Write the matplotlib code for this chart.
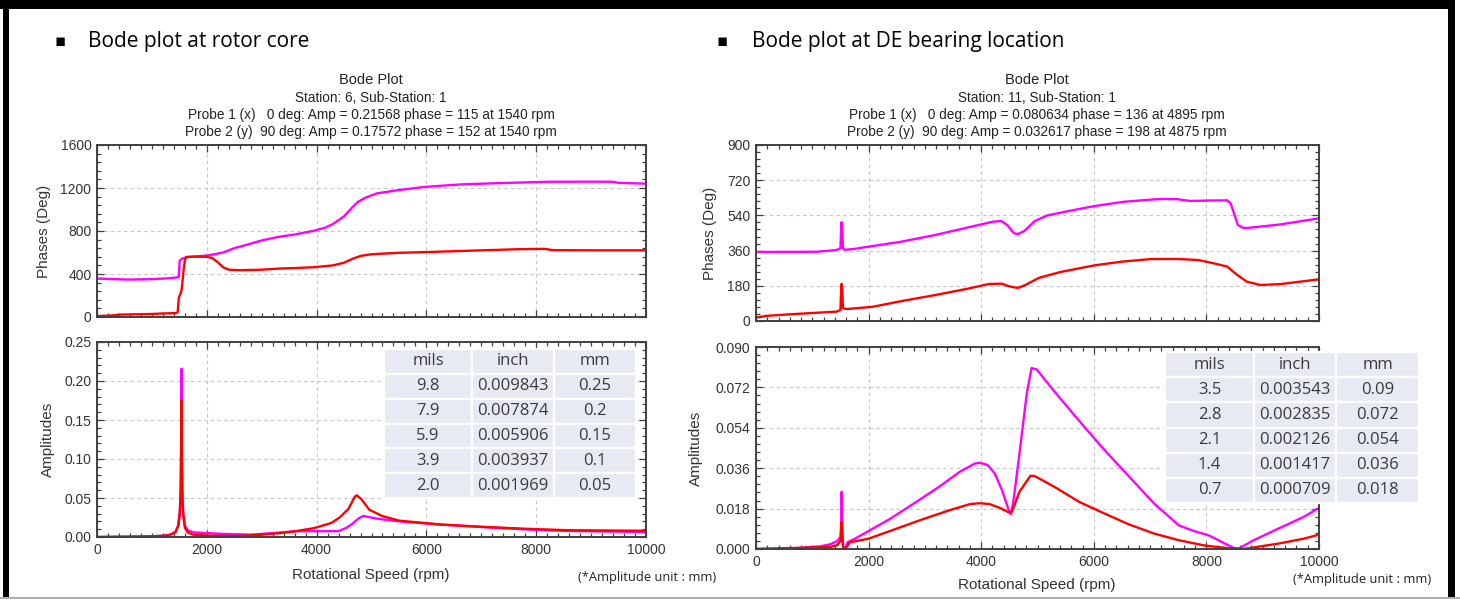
import matplotlib
matplotlib.use("Agg")
import matplotlib.pyplot as plt
from matplotlib.patches import Rectangle
from matplotlib.ticker import MultipleLocator

# ---------------- data ----------------
# rotor core: phase (deg) vs speed (rpm)
core_ph1_rpm = [0, 300, 600, 1000, 1300, 1450, 1490, 1505, 1540, 1640, 1800, 2000, 2150, 2300,
                2500, 2750, 3000, 3300, 3600, 3960, 4150, 4300, 4500, 4650, 4750, 4885, 5100,
                5500, 5950, 6300, 6650, 7300, 7800, 8200, 9000, 9400, 9500, 10000]
core_ph1 = [358, 352, 348, 352, 360, 368, 372, 520, 540, 558, 563, 572, 585, 600,
            640, 675, 712, 745, 767, 803, 830, 865, 937, 1020, 1070, 1109, 1150,
            1181, 1209, 1222, 1234, 1245, 1252, 1258, 1259, 1258, 1248, 1240]
core_ph2_rpm = [0, 300, 400, 1000, 1200, 1440, 1470, 1490, 1520, 1545, 1570, 1600, 1630, 1800,
                2000, 2100, 2200, 2300, 2400, 2600, 3000, 3300, 3600, 3950, 4300, 4500, 4650,
                4800, 5000, 5500, 6000, 6500, 7000, 7700, 8150, 8300, 9000, 10000]
core_ph2 = [8, 15, 22, 28, 33, 36, 45, 180, 215, 265, 400, 530, 558, 562,
            560, 548, 510, 462, 440, 435, 440, 450, 455, 463, 480, 505, 540,
            568, 584, 597, 604, 612, 620, 631, 634, 622, 620, 620]

# rotor core: amplitude (mm)
core_amp1_rpm = [0, 800, 1200, 1350, 1430, 1480, 1510, 1525, 1535, 1540, 1545, 1555, 1570, 1600,
                 1650, 1750, 2000, 2300, 2800, 3400, 3600, 4400, 4550, 4650, 4770, 4850, 5100,
                 5500, 6250, 7000, 7800, 8550, 10000]
core_amp1 = [0.0, 0.0005, 0.0015, 0.003, 0.007, 0.015, 0.035, 0.065, 0.15, 0.21568, 0.12, 0.06,
             0.03, 0.015, 0.009, 0.006, 0.005, 0.004, 0.003, 0.006, 0.0075, 0.0075, 0.012, 0.017,
             0.024, 0.027, 0.0235, 0.020, 0.016, 0.0128, 0.0098, 0.0078, 0.0064]
core_amp2_rpm = [0, 1000, 1300, 1430, 1480, 1510, 1525, 1535, 1540, 1545, 1555, 1570, 1600, 1650,
                 1750, 2000, 2500, 2800, 3200, 3580, 3960, 4270, 4420, 4580, 4690, 4730, 4810,
                 4960, 5190, 5500, 6260, 7030, 7800, 8570, 10000]
core_amp2 = [0.0, 0.0008, 0.002, 0.006, 0.014, 0.03, 0.06, 0.12, 0.17572, 0.10, 0.05, 0.03,
             0.012, 0.006, 0.003, 0.002, 0.0012, 0.002, 0.004, 0.007, 0.0115, 0.018, 0.025,
             0.036, 0.051, 0.0535, 0.049, 0.035, 0.027, 0.021, 0.016, 0.013, 0.0106, 0.0087, 0.008]

# DE bearing: phase (deg)
de_ph1_rpm = [0, 1080, 1430, 1500, 1515, 1522, 1530, 1545, 1580, 1730, 2000, 2570, 3170, 3760,
              4210, 4360, 4470, 4580, 4650, 4770, 4950, 5175, 5550, 6000, 6510, 6890, 7180,
              7480, 7710, 8070, 8370, 8430, 8500, 8560, 8660, 8780, 9320, 10000]
de_ph1 = [353, 354, 363, 372, 500, 505, 480, 372, 364, 368, 380, 405, 439, 478,
          508, 511, 489, 449, 444, 461, 511, 540, 562, 587, 609, 618, 624,
          623, 614, 616, 617, 602, 542, 491, 475, 477, 494, 525]
de_ph2_rpm = [0, 180, 590, 1430, 1500, 1515, 1522, 1530, 1545, 1610, 2080, 2570, 3170, 3760,
              4130, 4360, 4500, 4650, 4770, 5030, 5400, 6000, 6510, 7030, 7480, 7850, 8130,
              8370, 8550, 8720, 8960, 9320, 10000]
de_ph2 = [17, 26, 34, 48, 56, 185, 190, 170, 65, 61, 73, 101, 132, 165,
          189, 191, 177, 169, 182, 221, 250, 284, 304, 317, 317, 312, 295,
          278, 235, 201, 184, 189, 213]

# DE bearing: amplitude (mm)
de_amp1_rpm = [0, 700, 1140, 1320, 1450, 1500, 1515, 1522, 1530, 1549, 1584, 1630, 1760, 2000,
               2380, 2910, 3270, 3620, 3890, 3970, 4110, 4240, 4370, 4500, 4530, 4575, 4680,
               4810, 4895, 4990, 5300, 5740, 6190, 6630, 7070, 7340, 7510, 7780, 8040, 8310,
               8490, 8575, 8840, 9280, 9730, 10000]
de_amp1 = [0.0, 0.0003, 0.0012, 0.0021, 0.0036, 0.0054, 0.012, 0.0255, 0.012, 0.0009, 0.0003,
           0.0031, 0.0046, 0.008, 0.0134, 0.022, 0.028, 0.0344, 0.0381, 0.0384, 0.0375, 0.0337,
           0.0262, 0.0165, 0.0155, 0.0218, 0.0426, 0.0694, 0.080634, 0.0799, 0.0702, 0.0571,
           0.0441, 0.0322, 0.0203, 0.0143, 0.0105, 0.008, 0.0061, 0.0027, 0.0004, 0.0002,
           0.0039, 0.0091, 0.0143, 0.0183]
de_amp2_rpm = [0, 1320, 1450, 1500, 1515, 1522, 1530, 1549, 1584, 1670, 2000, 2380, 2910, 3440,
               3800, 3970, 4150, 4330, 4500, 4550, 4680, 4875, 4950, 5300, 5740, 6190, 6630,
               7070, 7510, 7960, 8400, 8660, 8840, 9280, 9730, 10000]
de_amp2 = [0.0, 0.0009, 0.0018, 0.0036, 0.008, 0.012, 0.006, 0.0003, 0.0, 0.003, 0.0046, 0.008,
           0.0128, 0.0173, 0.02, 0.0204, 0.02, 0.0183, 0.0162, 0.0168, 0.0255, 0.032617, 0.0325,
           0.0277, 0.021, 0.0158, 0.0109, 0.0069, 0.0039, 0.0016, 0.0003, 0.0, 0.0007, 0.0024,
           0.0046, 0.0064]

# unit conversion tables
table_header = ["mils", "inch", "mm"]
core_table = [["9.8", "0.009843", "0.25"],
              ["7.9", "0.007874", "0.2"],
              ["5.9", "0.005906", "0.15"],
              ["3.9", "0.003937", "0.1"],
              ["2.0", "0.001969", "0.05"]]
de_table = [["3.5", "0.003543", "0.09"],
            ["2.8", "0.002835", "0.072"],
            ["2.1", "0.002126", "0.054"],
            ["1.4", "0.001417", "0.036"],
            ["0.7", "0.000709", "0.018"]]

core_title = ["Station: 6, Sub-Station: 1",
              "Probe 1 (x)   0 deg: Amp = 0.21568 phase = 115 at 1540 rpm",
              "Probe 2 (y)  90 deg: Amp = 0.17572 phase = 152 at 1540 rpm"]
de_title = ["Station: 11, Sub-Station: 1",
            "Probe 1 (x)   0 deg: Amp = 0.080634 phase = 136 at 4895 rpm",
            "Probe 2 (y)  90 deg: Amp = 0.032617 phase = 198 at 4875 rpm"]

# ---------------- layout helpers (pixel based) ----------------
W, H = 1460, 600
fig = plt.figure(figsize=(W / 100, H / 100), dpi=100)
fig.patch.set_facecolor("white")

TICK_FONT = "Liberation Sans"
SLIDE_FONT = ["Open Sans", "DejaVu Sans"]
MAGENTA = "#ff00ff"
RED = "#ff0000"


def px_axes(x0, y0, x1, y1):
    return fig.add_axes([x0 / W, 1 - y1 / H, (x1 - x0) / W, (y1 - y0) / H])


def px_text(x, y, s, **kw):
    fig.text(x / W, 1 - y / H, s, **kw)


def style_axes(ax, ymax, ymajor, yminor, fmt, show_x):
    ax.set_xlim(0, 10000)
    ax.set_ylim(0, ymax)
    ax.xaxis.set_major_locator(MultipleLocator(2000))
    ax.xaxis.set_minor_locator(MultipleLocator(200))
    ax.yaxis.set_major_locator(MultipleLocator(ymajor))
    ax.yaxis.set_minor_locator(MultipleLocator(yminor))
    ax.yaxis.set_major_formatter(plt.FormatStrFormatter(fmt))
    ax.grid(True, which="major", linestyle=(0, (3, 3)), color="#c4c4c4", linewidth=0.8)
    ax.tick_params(which="both", direction="in", top=True, right=True, colors="#404040",
                   labelcolor="#333333", labelsize=10, width=0.9)
    ax.tick_params(which="major", length=5, pad=4)
    ax.tick_params(which="minor", length=3)
    ax.tick_params(axis="x", labelbottom=show_x)
    for lab in ax.get_xticklabels() + ax.get_yticklabels():
        lab.set_fontfamily(TICK_FONT)
    for sp in ax.spines.values():
        sp.set_color("#404040")
        sp.set_linewidth(1.4)


def draw_table(x0, y0, x1, y1, col_px, rows):
    tax = px_axes(x0, y0, x1, y1)
    tax.set_axis_off()
    total = sum(col_px)
    tb = tax.table(cellText=rows, colLabels=table_header, cellLoc="center",
                   colWidths=[c / total for c in col_px], bbox=[0, 0, 1, 1])
    tb.auto_set_font_size(False)
    for cell in tb.get_celld().values():
        cell.set_facecolor("#e8eaf3")
        cell.set_edgecolor("white")
        cell.set_linewidth(1.6)
        cell.get_text().set_fontsize(12)
        cell.get_text().set_fontfamily(SLIDE_FONT)
        cell.get_text().set_color("#3a3a3a")


# ---------------- rotor core ----------------
ax = px_axes(97, 145, 646, 317)
ax.plot(core_ph1_rpm, core_ph1, color=MAGENTA, lw=1.7)
ax.plot(core_ph2_rpm, core_ph2, color=RED, lw=1.7)
style_axes(ax, 1600, 400, 80, "%d", False)
ax.set_ylabel("Phases (Deg)", fontfamily=TICK_FONT, fontsize=11, color="#333333", labelpad=7)

ax = px_axes(97, 342, 646, 537)
ax.plot(core_amp1_rpm, core_amp1, color=MAGENTA, lw=1.7)
ax.plot(core_amp2_rpm, core_amp2, color=RED, lw=1.7)
style_axes(ax, 0.25, 0.05, 0.01, "%.2f", True)
ax.set_ylabel("Amplitudes", fontfamily=TICK_FONT, fontsize=11, color="#333333", labelpad=7)
draw_table(384, 349, 636, 498, [88, 82, 82], core_table)

# ---------------- DE bearing ----------------
ax = px_axes(756, 145, 1319, 321)
ax.plot(de_ph1_rpm, de_ph1, color=MAGENTA, lw=1.7)
ax.plot(de_ph2_rpm, de_ph2, color=RED, lw=1.7)
style_axes(ax, 900, 180, 36, "%d", False)
ax.set_ylabel("Phases (Deg)", fontfamily=TICK_FONT, fontsize=11, color="#333333", labelpad=7)

ax = px_axes(756, 347, 1319, 549)
ax.plot(de_amp1_rpm, de_amp1, color=MAGENTA, lw=1.7)
ax.plot(de_amp2_rpm, de_amp2, color=RED, lw=1.7)
style_axes(ax, 0.09, 0.018, 0.0036, "%.3f", True)
ax.set_ylabel("Amplitudes", fontfamily=TICK_FONT, fontsize=11, color="#333333", labelpad=9)
draw_table(1165, 352, 1419, 503, [89, 82, 83], de_table)

# ---------------- titles and captions ----------------
for cx, lines in [(371, core_title), (1037, de_title)]:
    px_text(cx, 80, "Bode Plot", ha="center", va="center", fontfamily=TICK_FONT,
            fontsize=10.5, color="#222222")
    for i, s in enumerate(lines):
        px_text(cx, 98 + 17 * i, s, ha="center", va="center", fontfamily=TICK_FONT,
                fontsize=9.8, color="#222222")

px_text(371, 575, "Rotational Speed (rpm)", ha="center", va="center", fontfamily=TICK_FONT,
        fontsize=11, color="#333333")
px_text(1037, 585, "Rotational Speed (rpm)", ha="center", va="center", fontfamily=TICK_FONT,
        fontsize=11, color="#333333")
px_text(578, 577, "(*Amplitude unit : mm)", ha="left", va="center", fontfamily=SLIDE_FONT,
        fontsize=9.3, color="#222222")
px_text(1293, 580, "(*Amplitude unit : mm)", ha="left", va="center", fontfamily=SLIDE_FONT,
        fontsize=9.3, color="#222222")

# slide bullets
px_text(60, 42, "\u25aa", ha="center", va="center", fontfamily=SLIDE_FONT, fontsize=12, color="black")
px_text(88, 42, "Bode plot at rotor core", ha="left", va="center", fontfamily=SLIDE_FONT,
        fontsize=15, color="black")
px_text(722, 42, "\u25aa", ha="center", va="center", fontfamily=SLIDE_FONT, fontsize=12, color="black")
px_text(752, 42, "Bode plot at DE bearing location", ha="left", va="center", fontfamily=SLIDE_FONT,
        fontsize=15, color="black")

# slide frame
def px_rect(x0, y0, x1, y1, color):
    fig.add_artist(Rectangle((x0 / W, 1 - y1 / H), (x1 - x0) / W, (y1 - y0) / H,
                             transform=fig.transFigure, facecolor=color, edgecolor="none"))


px_rect(0, 0, 1455, 9, "black")
px_rect(3, 0, 9, 598, "black")
px_rect(1448, 0, 1455, 598, "black")
px_rect(0, 597, 1460, 599, "#b0b0b0")

fig.savefig("out.png", dpi=100)
